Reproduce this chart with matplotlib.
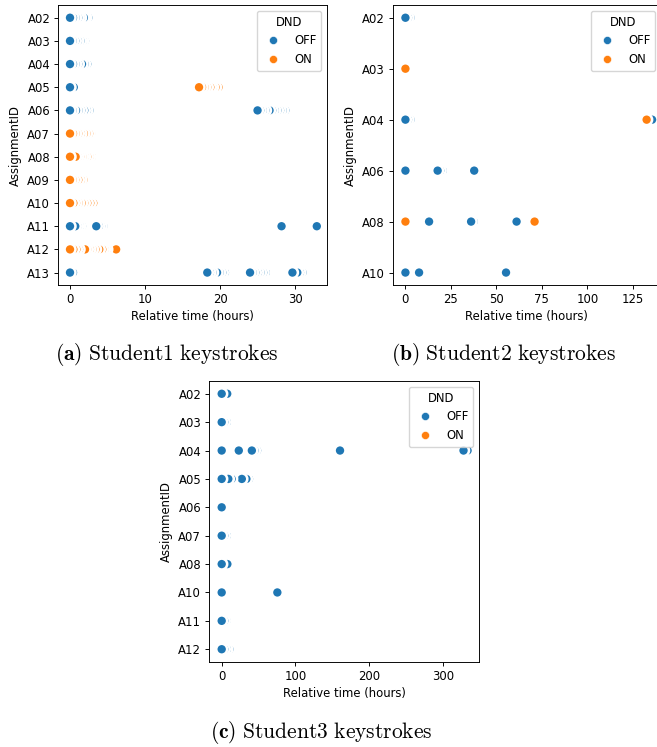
import matplotlib
matplotlib.use("Agg")
import matplotlib.pyplot as plt
import numpy as np
import pandas as pd
from matplotlib.lines import Line2D

plt.rcParams['mathtext.fontset'] = 'cm'

BLUE = '#1f77b4'
ORANGE = '#ff7f0e'
FS = 8.4

# Student1 keystrokes, hours per assignment
s1_ids = ["A02", "A03", "A04", "A05", "A06", "A07", "A08", "A09", "A10", "A11", "A12", "A13"]
s1_off = [
    [0, 0.4, 0.75, 1.1, 1.4, 1.85, 2.1, 2.45],
    [0, 0.35, 0.7, 1.05, 1.4, 1.7, 2.0],
    [0, 0.4, 0.75, 1.1, 1.6, 1.95, 2.3],
    [0, 0.5],
    [0, 0.35, 0.8, 1.15, 1.5, 1.9, 2.25, 2.6,
     25.0, 25.35, 25.7, 26.05, 26.6, 26.95, 27.3, 27.65, 28.0, 28.35, 28.7],
    [],
    [],
    [],
    [],
    [0, 0.7, 1.0, 1.3, 1.6, 3.5, 3.85, 4.15, 4.45, 28.2, 32.9],
    [],
    [0, 0.4, 18.3, 18.65, 19.0, 19.6, 19.95, 20.3, 20.65, 24.0, 24.35, 24.7, 25.05, 25.4, 25.75, 26.1,
     29.65, 30.3, 30.65, 31.0],
]
s1_on = [
    [],
    [],
    [],
    [17.2, 17.6, 17.95, 18.3, 18.7, 19.0, 19.4, 19.8],
    [],
    [0, 0.4, 0.75, 1.1, 1.45, 1.85, 2.2, 2.55, 2.8],
    [0, 0.75, 1.05, 1.35, 1.65, 1.95, 2.3, 2.6, 2.9],
    [0, 0.35, 0.7, 1.1, 1.45, 1.8],
    [0, 0.45, 0.8, 1.15, 1.55, 1.9, 2.3, 2.7, 3.1],
    [],
    [0, 0.45, 0.85, 1.2, 2.0, 2.3, 2.65, 3.0, 3.4, 3.9, 4.3, 4.6, 4.9, 6.15],
    [],
]

# Student2 keystrokes
s2_ids = ["A02", "A03", "A04", "A06", "A08", "A10"]
s2_off = [
    [0, 1.4, 2.8],
    [],
    [0, 1.4, 2.8, 135.6],
    [0, 17.7, 19.1, 20.5, 37.8],
    [13.0, 36.1, 37.5, 61.1],
    [0, 7.5, 55.3],
]
s2_on = [
    [],
    [0],
    [132.6],
    [],
    [0, 71.0],
    [],
]

# Student3 keystrokes
s3_ids = ["A02", "A03", "A04", "A05", "A06", "A07", "A08", "A10", "A11", "A12"]
s3_off = [
    [0, 7.5],
    [0, 3.5, 7.0],
    [0, 23.2, 40.9, 44.5, 48.0, 160.5, 328.0, 333.5],
    [0, 9.0, 13.5, 27.3, 33.5, 37.0],
    [0],
    [0, 3.5, 7.0],
    [0, 7.7],
    [0, 75.5],
    [0, 3.5, 6.5],
    [0, 3.5, 7.0, 10.5],
]
s3_on = [[] for _ in s3_ids]


def draw_panel(ax, ids, off, on, xlim, xticks):
    rows = []
    for i, aid in enumerate(ids):
        for t in off[i]:
            rows.append((i, t, BLUE))
        for t in on[i]:
            rows.append((i, t, ORANGE))
    df = pd.DataFrame(rows, columns=['row', 'hours', 'color'])
    # later keystrokes first, so the earliest of a burst sits on top
    df = df.sort_values('hours', ascending=False, kind='stable')
    ax.scatter(df['hours'], df['row'], c=df['color'], s=62,
               edgecolors='white', linewidths=1.85, zorder=2)
    n = len(ids) - 1
    ax.set_ylim(n + 0.05 * n, -0.05 * n)
    ax.set_yticks(range(len(ids)))
    ax.set_yticklabels(ids)
    ax.set_xlim(*xlim)
    ax.set_xticks(xticks)
    ax.set_xlabel('Relative time (hours)', fontsize=FS, labelpad=2.5)
    ax.set_ylabel('AssignmentID', fontsize=FS, labelpad=3.5)
    ax.tick_params(labelsize=FS, length=3, width=0.67, pad=2.8)
    for sp in ax.spines.values():
        sp.set_linewidth(0.67)
    handles = [Line2D([], [], marker='o', ls='', color=BLUE, markersize=5.8,
                      markeredgecolor='white', markeredgewidth=0.4),
               Line2D([], [], marker='o', ls='', color=ORANGE, markersize=5.8,
                      markeredgecolor='white', markeredgewidth=0.4)]
    ax.legend(handles, ['OFF', 'ON'], title='DND', loc='upper right',
              fontsize=FS, title_fontsize=FS)


W, H = 657, 747
fig = plt.figure(figsize=(W / 100, H / 100), dpi=100)

ax1 = fig.add_axes([58.3 / W, 1 - 285.3 / H, 269 / W, 280.3 / H])
draw_panel(ax1, s1_ids, s1_off, s1_on, (-1.56, 34.3), [0, 10, 20, 30])

ax2 = fig.add_axes([392.7 / W, 1 - 285.3 / H, 268.3 / W, 280.3 / H])
draw_panel(ax2, s2_ids, s2_off, s2_on, (-7.0, 140.5), [0, 25, 50, 75, 100, 125])

ax3 = fig.add_axes([209.3 / W, 1 - 662 / H, 269.7 / W, 281 / H])
draw_panel(ax3, s3_ids, s3_off, s3_on, (-16.8, 349), [0, 100, 200, 300])

cap = dict(ha='center', va='center', fontsize=15.5)
fig.text(167 / W, 1 - 355 / H, r'$\mathbf{(a)}\ \mathrm{Student1\ keystrokes}$', **cap)
fig.text(504 / W, 1 - 355 / H, r'$\mathbf{(b)}\ \mathrm{Student2\ keystrokes}$', **cap)
fig.text(321 / W, 1 - 733 / H, r'$\mathbf{(c)}\ \mathrm{Student3\ keystrokes}$', **cap)

fig.savefig('out.png', dpi=100)
